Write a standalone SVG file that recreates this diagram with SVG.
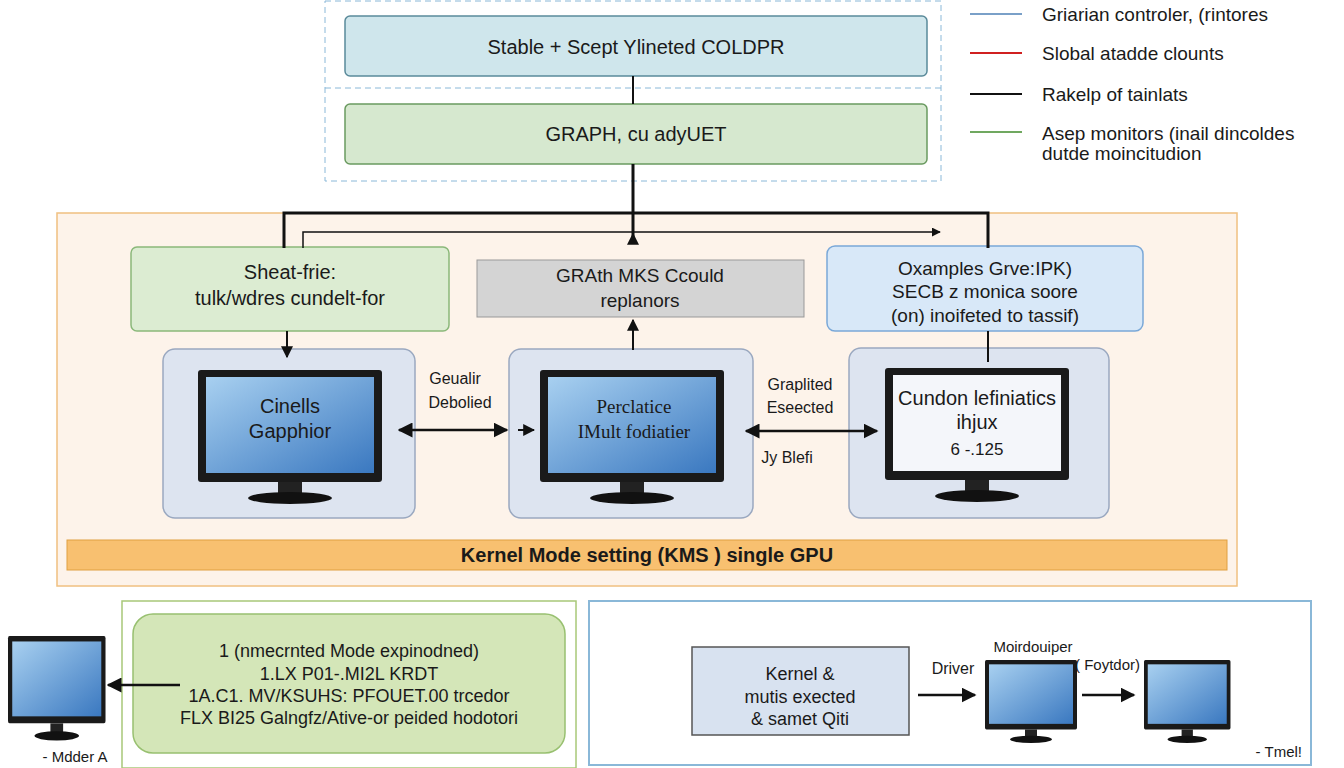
<svg xmlns="http://www.w3.org/2000/svg" width="1344" height="768" viewBox="0 0 1344 768">
<style>
text{font-family:"Liberation Sans",Arial,sans-serif;fill:#1a1a1a}
.c{text-anchor:middle}
.ln{stroke:#111;fill:none}
.panel{fill:#dde4f0;stroke:#9aa8c0;stroke-width:1.5}
</style>
<defs>
<marker id="a" viewBox="0 0 10 10" refX="9" refY="5" markerWidth="6" markerHeight="6" orient="auto-start-reverse"><path d="M0,0L10,5L0,10z" fill="#111"/></marker>
<linearGradient id="scr" x1="0" y1="0" x2="1" y2="1"><stop offset="0" stop-color="#a8d0f0"/><stop offset="1" stop-color="#3a78c0"/></linearGradient>
<g id="mon">
<rect x="0" y="0" width="184" height="112" rx="3" fill="#1a1a1a"/>
<rect x="8" y="7" width="168" height="96" fill="url(#scr)"/>
<rect x="80" y="112" width="24" height="12" fill="#222"/>
<ellipse cx="92" cy="128" rx="42" ry="6" fill="#111"/>
</g>
</defs>
<rect width="1344" height="768" fill="#fff"/>
<g id="top">
<rect x="325" y="1" width="616" height="180" fill="#fff" stroke="#8ab8d8" stroke-dasharray="6,4"/>
<line x1="325" y1="88" x2="941" y2="88" stroke="#8ab8d8" stroke-dasharray="6,4"/>
</g>
<g id="n1"><rect x="345" y="16" width="582" height="60" rx="5" fill="#cfe6ec" stroke="#5a8a9a" stroke-width="1.5"/><text x="636" y="54" class="c" font-size="20">Stable + Scept Ylineted COLDPR</text></g>
<g id="n2"><rect x="345" y="104" width="582" height="60" rx="5" fill="#d6e8cf" stroke="#6a9a60" stroke-width="1.5"/><text x="636" y="141" class="c" font-size="20">GRAPH, cu adyUET</text></g>
<g id="legend" font-size="19">
<line x1="970" y1="14" x2="1022" y2="14" stroke="#7aa0c8" stroke-width="2"/><text x="1042" y="21">Griarian controler, (rintores</text>
<line x1="970" y1="53" x2="1022" y2="53" stroke="#d02020" stroke-width="2"/><text x="1042" y="60">Slobal atadde clounts</text>
<line x1="970" y1="94" x2="1022" y2="94" stroke="#111" stroke-width="2"/><text x="1042" y="101">Rakelp of tainlats</text>
<line x1="970" y1="132" x2="1022" y2="132" stroke="#70a860" stroke-width="2"/><text x="1042" y="140">Asep monitors (inail dincoldes</text><text x="1042" y="160">dutde moincitudion</text>
</g>
<g id="kms">
<rect x="57" y="213" width="1180" height="373" fill="#fdf3ea" stroke="#f0c080" stroke-width="1.5"/>
<rect x="67" y="540" width="1160" height="30" fill="#f8c070" stroke="#e0a040"/>
<text x="647" y="562" class="c" font-size="20" font-weight="bold">Kernel Mode setting (KMS ) single GPU</text>
</g>
<g id="green"><rect x="131" y="247" width="318" height="84" rx="6" fill="#dcecd2" stroke="#8ab87a" stroke-width="1.5"/><text x="290" y="279" class="c" font-size="20">Sheat-frie:</text><text x="290" y="305" class="c" font-size="20">tulk/wdres cundelt-for</text></g>
<g id="gray"><rect x="477" y="260" width="327" height="57" fill="#d4d4d4" stroke="#999"/><text x="640" y="282" class="c" font-size="19">GRAth MKS Ccould</text><text x="640" y="307" class="c" font-size="19">replanors</text></g>
<g id="blue"><rect x="827" y="246" width="316" height="85" rx="8" fill="#d8e8f8" stroke="#7aa8d8" stroke-width="1.5"/><text x="985" y="275" class="c" font-size="19">Oxamples Grve:IPK)</text><text x="985" y="298" class="c" font-size="19">SECB z monica soore</text><text x="985" y="322" class="c" font-size="19">(on) inoifeted to tassif)</text></g>
<g id="p1"><rect x="163" y="349" width="252" height="169" rx="12" class="panel"/><use href="#mon" x="198" y="370"/><text x="290" y="413" class="c" font-size="20">Cinells</text><text x="290" y="438" class="c" font-size="20">Gapphior</text></g>
<g id="p2"><rect x="509" y="349" width="244" height="169" rx="12" class="panel"/><use href="#mon" x="540" y="370"/><text x="634" y="413" class="c" font-size="19" style="font-family:'Liberation Serif',serif">Perclatice</text><text x="634" y="438" class="c" font-size="19" style="font-family:'Liberation Serif',serif">IMult fodiatier</text></g>
<g id="p3"><rect x="849" y="348" width="260" height="170" rx="12" class="panel"/><use href="#mon" x="885" y="368"/><rect x="893" y="375" width="168" height="96" fill="#f4f6fa"/><text x="977" y="405" class="c" font-size="20">Cundon lefiniatics</text><text x="977" y="429" class="c" font-size="20">ihjux</text><text x="977" y="455" class="c" font-size="17" fill="#444">6 -.125</text></g>
<g id="labels" font-size="16">
<text x="455" y="384" class="c">Geualir</text><text x="460" y="408" class="c">Debolied</text>
<text x="800" y="390" class="c">Graplited</text><text x="800" y="413" class="c">Eseected</text>
<text x="787" y="463" class="c">Jy Blefi</text>
</g>
<g id="bl">
<rect x="122" y="601" width="454" height="167" fill="#fff" stroke="#a8c878" stroke-width="1.5"/>
<rect x="133" y="614" width="432" height="139" rx="20" fill="#d4e6b8" stroke="#98c070" stroke-width="1.5"/>
<g font-size="18"><text x="349" y="657" class="c">1 (nmecrnted Mode expinodned)</text><text x="349" y="680" class="c">1.LX P01-.MI2L KRDT</text><text x="349" y="702" class="c">1A.C1. MV/KSUHS: PFOUET.00 trcedor</text><text x="349" y="724" class="c">FLX BI25 Galngfz/Ative-or peided hodotori</text></g>
</g>
<g id="monL"><use href="#mon" transform="translate(8,636) scale(0.53,0.78)"/><text x="75" y="762" class="c" font-size="15">- Mdder A</text></g>
<g id="br">
<rect x="589" y="601" width="722" height="164" fill="#fff" stroke="#8ab8d8" stroke-width="2"/>
<rect x="692" y="647" width="217" height="88" fill="#d8e2f0" stroke="#555" stroke-width="1.5"/>
<g font-size="18"><text x="800" y="680" class="c">Kernel &amp;</text><text x="800" y="703" class="c">mutis exected</text><text x="800" y="725" class="c">&amp; samet Qiti</text></g>
<text x="953" y="674" class="c" font-size="16">Driver</text>
<text x="1033" y="652" class="c" font-size="15">Moirdouiper</text>
<text x="1140" y="670" text-anchor="end" font-size="15">( Foytdor)</text>
<text x="1302" y="757" text-anchor="end" font-size="15">- Tmel!</text>
</g>
<g id="monR1"><use href="#mon" transform="translate(985,660) scale(0.5,0.62)"/></g>
<g id="monR2"><use href="#mon" transform="translate(1144,660) scale(0.47,0.62)"/></g>
<g id="connectors" class="ln">
<line x1="633" y1="76" x2="633" y2="104" stroke-width="2"/>
<path d="M633,164V240" stroke-width="3"/>
<path d="M284,248V213H988V248" stroke-width="3"/>
<path d="M303,248V232H940" stroke-width="1.5" marker-end="url(#a)"/>
<line x1="633" y1="240" x2="633" y2="234" stroke-width="2" marker-end="url(#a)"/>
<line x1="633" y1="350" x2="633" y2="320" stroke-width="2" marker-end="url(#a)"/>
<line x1="287" y1="331" x2="287" y2="357" stroke-width="2" marker-end="url(#a)"/>
<line x1="988" y1="331" x2="988" y2="362" stroke-width="2"/>
<line x1="399" y1="430" x2="507" y2="430" stroke-width="2.5" marker-start="url(#a)" marker-end="url(#a)"/>
<line x1="518" y1="430" x2="534" y2="430" stroke-width="2" marker-end="url(#a)"/>
<line x1="746" y1="431" x2="877" y2="431" stroke-width="2.5" marker-start="url(#a)" marker-end="url(#a)"/>
<line x1="180" y1="685" x2="108" y2="685" stroke-width="2.5" marker-end="url(#a)"/>
<line x1="918" y1="695" x2="975" y2="695" stroke-width="2.5" marker-end="url(#a)"/>
<line x1="1082" y1="695" x2="1134" y2="695" stroke-width="2.5" marker-end="url(#a)"/>
</g>
</svg>
